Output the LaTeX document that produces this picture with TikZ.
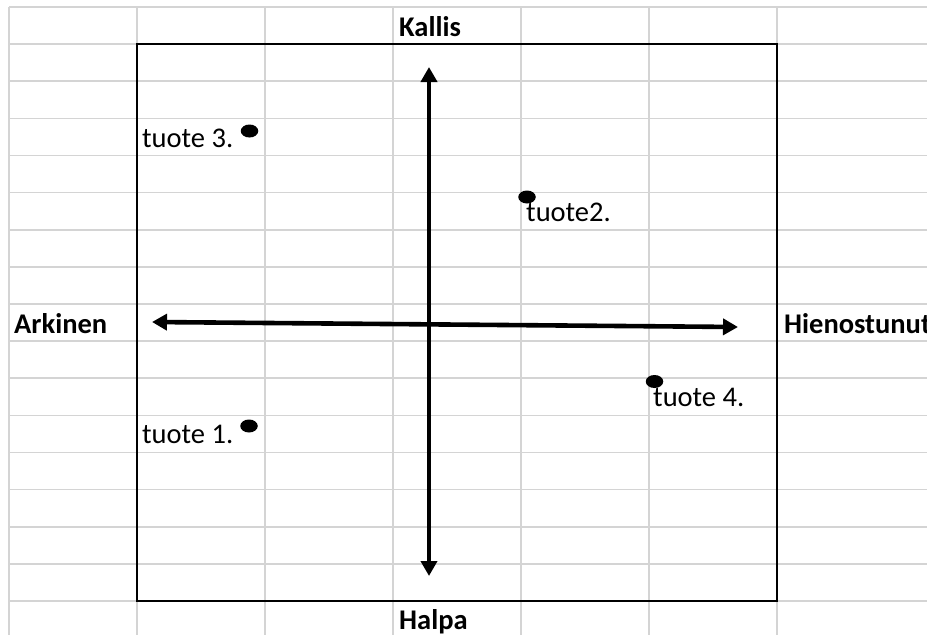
\documentclass[tikz,border=0pt]{standalone}
\usepackage{fontspec}
\setmainfont{Carlito}
\usetikzlibrary{arrows.meta,shapes.geometric}
\definecolor{gridgray}{RGB}{212,212,212}
\tikzset{
  gridline/.style={draw=gridgray, line width=1.6pt},
  frameline/.style={draw=black, line width=2.8pt},
  axis/.style={draw=black, line width=4.6pt, {Triangle[length=15pt,width=16pt]}-{Triangle[length=15pt,width=16pt]}},
  dot/.style={ellipse, fill=black, inner sep=0pt, minimum width=17.5pt, minimum height=13pt},
  lbl/.style={anchor=base west, inner sep=0pt, font=\fontsize{28.5}{34}\selectfont},
  axlbl/.style={lbl, font=\fontsize{28.5}{34}\selectfont\bfseries}
}
\begin{document}
\begin{tikzpicture}[x=1pt,y=-1pt]
\useasboundingbox (0,0) rectangle (927,635);
\clip (0,0) rectangle (927,635);
\fill[white] (0,0) rectangle (927,635);
% grid
\foreach \k in {0,...,16} {
  \draw[gridline] (9,{7+\k*37.125}) -- (927,{7+\k*37.125});
}
\foreach \k in {0,...,6} {
  \draw[gridline] ({9+\k*128},7) -- ({9+\k*128},635);
}
% frame
\draw[frameline] (137,44) rectangle (777,601);
% axes
\coordinate (top) at (429,67);
\coordinate (bottom) at (429,576);
\coordinate (left) at (152,322);
\coordinate (right) at (738,327);
\draw[axis] (bottom) -- (top);
\draw[axis] (left) -- (right);
% axis labels
\node[axlbl] (kallis) at (399,36) {Kallis};
\node[axlbl] (halpa) at (399,629) {Halpa};
\node[axlbl] (arkinen) at (14,333) {Arkinen};
\node[axlbl] (hieno) at (784,333) {Hienostunut};
% products
\node[dot] (d3) at (249.5,131) {};
\node[lbl] (t3) at (142,147) {tuote 3.};
\node[dot] (d2) at (527,197) {};
\node[lbl] (t2) at (526,221) {tuote2.};
\node[dot] (d4) at (654.5,381.5) {};
\node[lbl] (t4) at (653,406) {tuote 4.};
\node[dot] (d1) at (249,426) {};
\node[lbl] (t1) at (142,443) {tuote 1.};
\end{tikzpicture}
\end{document}
